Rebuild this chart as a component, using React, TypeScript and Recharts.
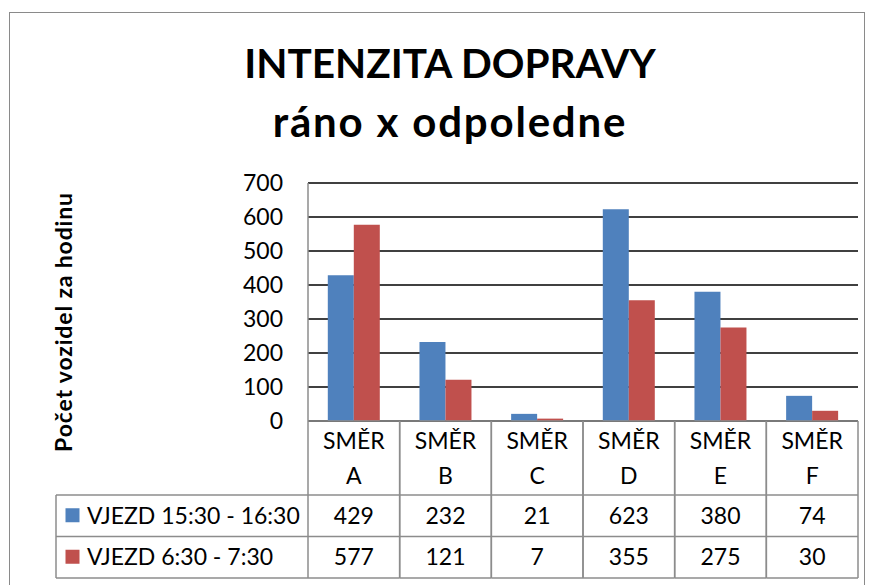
import React from 'react';
import { BarChart, Bar, XAxis, YAxis, CartesianGrid } from 'recharts';

const CATEGORIES = ['A', 'B', 'C', 'D', 'E', 'F'];
const CATEGORY_PREFIX = 'SMĚR';
const SERIES_NAMES = ['VJEZD 15:30 - 16:30', 'VJEZD 6:30 - 7:30'];
const SERIES_COLORS = ['#4F81BD', '#C0504D'];
const AFTERNOON = [429, 232, 21, 623, 380, 74];
const MORNING = [577, 121, 7, 355, 275, 30];
const Y_TICKS = [0, 100, 200, 300, 400, 500, 600, 700];
const TITLE_LINES = ['INTENZITA DOPRAVY', 'ráno x odpoledne'];
const Y_LABEL = 'Počet vozidel za hodinu';

const SERIES_VALUES = [AFTERNOON, MORNING];
const data = CATEGORIES.map((c, i) => ({ name: c, afternoon: AFTERNOON[i], morning: MORNING[i] }));

const W = 870;
const H = 585;
const PLOT_LEFT = 308;
const PLOT_RIGHT = 858;
const PLOT_TOP = 183;
const PLOT_BOTTOM = 421;
const Y_AXIS_W = 60;
const X_AXIS_H = 160;
const PLOT_W = PLOT_RIGHT - PLOT_LEFT;

const HEADER_H = 74;
const ROW_H = 41.5;
const LEGEND_LEFT = 56;
const LINE = '#8c8c8c';
const FONT = 'Lato, "Open Sans", sans-serif';

const TableTick = (props: any) => {
  const { x, y, payload, index } = props;
  const colW = PLOT_W / CATEGORIES.length;
  const left = x - colW / 2;
  const right = x + colW / 2;
  const top = y;
  const hb = top + HEADER_H;
  const r1 = hb + ROW_H;
  const r2 = r1 + ROW_H;
  const idx = typeof index === 'number' ? index : CATEGORIES.indexOf(payload.value);
  const ls = { stroke: LINE, strokeWidth: 1.5 };
  return (
    <g>
      <line x1={left} y1={top} x2={left} y2={r2} {...ls} />
      <line x1={right} y1={top} x2={right} y2={r2} {...ls} />
      <line x1={left} y1={hb} x2={right} y2={hb} {...ls} />
      <line x1={left} y1={r1} x2={right} y2={r1} {...ls} />
      <line x1={left} y1={r2} x2={right} y2={r2} {...ls} />
      <text x={x} y={top + 28} textAnchor="middle" fontSize={23} fill="#000" fontFamily={FONT}>
        {CATEGORY_PREFIX}
      </text>
      <text x={x} y={top + 63} textAnchor="middle" fontSize={23} fill="#000" fontFamily={FONT}>
        {payload.value}
      </text>
      {SERIES_VALUES.map((vals, s) => (
        <text
          key={s}
          x={x}
          y={hb + ROW_H * s + ROW_H / 2 + 8}
          textAnchor="middle"
          fontSize={23}
          fill="#000"
          fontFamily={FONT}
        >
          {vals[idx]}
        </text>
      ))}
      {idx === 0 && (
        <g>
          <line x1={LEGEND_LEFT} y1={hb} x2={left} y2={hb} {...ls} />
          <line x1={LEGEND_LEFT} y1={r1} x2={left} y2={r1} {...ls} />
          <line x1={LEGEND_LEFT} y1={r2} x2={left} y2={r2} {...ls} />
          <line x1={LEGEND_LEFT} y1={hb} x2={LEGEND_LEFT} y2={r2} {...ls} />
          {SERIES_NAMES.map((n, s) => (
            <g key={n}>
              <rect
                x={LEGEND_LEFT + 9.5}
                y={hb + ROW_H * s + ROW_H / 2 - 7.5}
                width={14}
                height={14}
                fill={SERIES_COLORS[s]}
              />
              <text
                x={LEGEND_LEFT + 31}
                y={hb + ROW_H * s + ROW_H / 2 + 8}
                fontSize={23}
                fill="#000"
                fontFamily={FONT}
              >
                {n}
              </text>
            </g>
          ))}
        </g>
      )}
    </g>
  );
};

export default function App() {
  return (
    <div
      style={{
        position: 'absolute',
        left: 0,
        top: 0,
        width: W,
        height: H,
        overflow: 'hidden',
        background: '#fff',
        fontFamily: FONT,
      }}
    >
      <div
        style={{
          position: 'absolute',
          left: 9,
          top: 12,
          width: 856,
          height: 620,
          border: '1.5px solid #8a8a8a',
          boxSizing: 'border-box',
        }}
      />
      <div style={{ position: 'absolute', left: 0, top: 0 }}>
        <BarChart
          width={W}
          height={H}
          data={data}
          margin={{ top: PLOT_TOP, right: W - PLOT_RIGHT, bottom: H - PLOT_BOTTOM - X_AXIS_H, left: PLOT_LEFT - Y_AXIS_W }}
          barCategoryGap="21.6%"
          barGap={0}
        >
          <CartesianGrid vertical={false} stroke="#000" strokeWidth={1.5} />
          <XAxis
            dataKey="name"
            height={X_AXIS_H}
            interval={0}
            tickLine={false}
            tickSize={0}
            tickMargin={0}
            axisLine={{ stroke: LINE, strokeWidth: 1.5 }}
            tick={<TableTick />}
          />
          <YAxis
            width={Y_AXIS_W}
            domain={[0, 700]}
            ticks={Y_TICKS}
            interval={0}
            tickLine={false}
            tickSize={0}
            tickMargin={25}
            axisLine={{ stroke: LINE, strokeWidth: 1.5 }}
            tick={{ fill: '#000', fontSize: 23, fontFamily: FONT }}
          />
          <Bar dataKey="afternoon" name={SERIES_NAMES[0]} fill={SERIES_COLORS[0]} isAnimationActive={false} />
          <Bar dataKey="morning" name={SERIES_NAMES[1]} fill={SERIES_COLORS[1]} isAnimationActive={false} />
        </BarChart>
      </div>
      <svg
        width={W}
        height={H}
        style={{ position: 'absolute', left: 0, top: 0, pointerEvents: 'none' }}
      >
        <text x={450} y={78} textAnchor="middle" fontSize={40.5} fontWeight="bold" fill="#000" fontFamily={FONT}>
          {TITLE_LINES[0]}
        </text>
        <text
          x={450}
          y={137}
          textAnchor="middle"
          fontSize={42}
          letterSpacing={1.8}
          fontWeight="bold"
          fill="#000"
          fontFamily={FONT}
        >
          {TITLE_LINES[1]}
        </text>
        <text
          x={72}
          y={322}
          transform="rotate(-90 72 322)"
          textAnchor="middle"
          fontSize={23}
          letterSpacing={0.85}
          fontWeight="bold"
          fill="#000"
          fontFamily={FONT}
        >
          {Y_LABEL}
        </text>
      </svg>
    </div>
  );
}
